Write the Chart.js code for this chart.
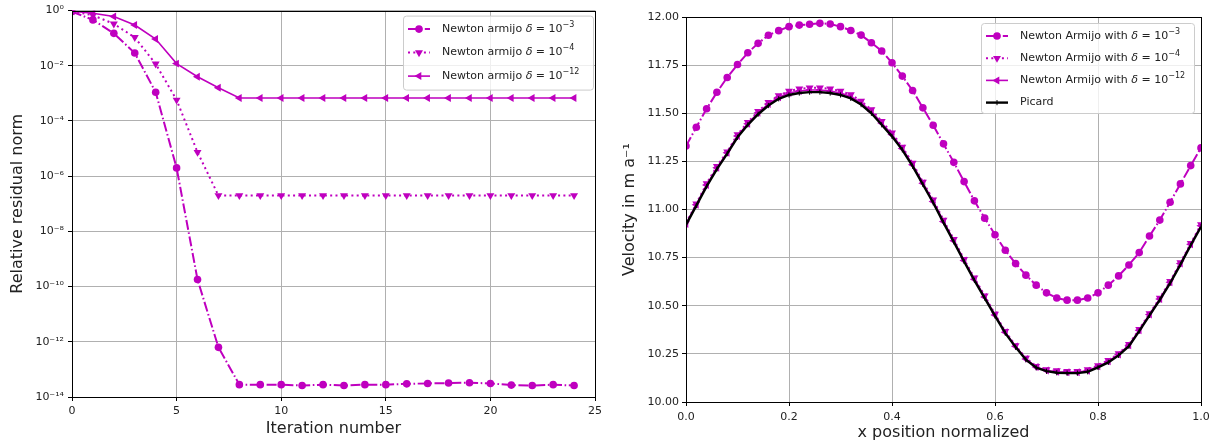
<!DOCTYPE html>
<html>
<head>
<meta charset="utf-8">
<script src="https://cdn.jsdelivr.net/npm/chart.js@4.4.1/dist/chart.umd.min.js"></script>
<style>
html, body { margin: 0; padding: 0; background: #fff; }
#wrap { position: relative; width: 1220px; height: 445px; }
canvas { position: absolute; top: 0; }
#left { left: 0; }
#right { left: 610px; }
</style>
</head>
<body>
<div id="wrap">
	<canvas id="left" width="610" height="445"></canvas>
	<canvas id="right" width="610" height="445"></canvas>
</div>
<script>
// left panel: residual history
const iterations = [0, 1, 2, 3, 4, 5, 6, 7, 8, 9, 10, 11, 12, 13, 14, 15, 16, 17, 18, 19, 20, 21, 22, 23, 24];
const residualD3 = [0.92, 0.46, 0.15, 0.029, 1.1e-3, 2e-6, 1.8e-10, 6.3e-13, 2.8e-14, 2.8e-14, 2.8e-14, 2.6e-14, 2.8e-14, 2.6e-14, 2.8e-14, 2.8e-14, 3.0e-14, 3.1e-14, 3.2e-14, 3.3e-14, 3.1e-14, 2.7e-14, 2.6e-14, 2.8e-14, 2.6e-14];
const residualD4 = [0.95, 0.68, 0.33, 0.107, 0.0117, 5.8e-4, 7.4e-6, 2.0e-7, 2.0e-7, 2.0e-7, 2.0e-7, 2.0e-7, 2.0e-7, 2.0e-7, 2.0e-7, 2.0e-7, 2.0e-7, 2.0e-7, 2.0e-7, 2.0e-7, 2.0e-7, 2.0e-7, 2.0e-7, 2.0e-7, 2.0e-7];
const residualD12 = [0.95, 0.8, 0.61, 0.30, 0.093, 0.012, 4e-3, 1.6e-3, 6.8e-4, 6.8e-4, 6.8e-4, 6.8e-4, 6.8e-4, 6.8e-4, 6.8e-4, 6.8e-4, 6.8e-4, 6.8e-4, 6.8e-4, 6.8e-4, 6.8e-4, 6.8e-4, 6.8e-4, 6.8e-4, 6.8e-4];
const iterationTicks = [0, 5, 10, 15, 20, 25];
const iterationTickLabels = ['0', '5', '10', '15', '20', '25'];
const residualTicks = [1e-14, 1e-12, 1e-10, 1e-8, 1e-6, 1e-4, 1e-2, 1];
const residualTickLabels = ['10⁻¹⁴', '10⁻¹²', '10⁻¹⁰', '10⁻⁸', '10⁻⁶', '10⁻⁴', '10⁻²', '10⁰'];

// right panel: velocity profiles
const positions = [0, 0.02, 0.04, 0.06, 0.08, 0.1, 0.12, 0.14, 0.16, 0.18, 0.2, 0.22, 0.24, 0.26, 0.28, 0.3, 0.32, 0.34, 0.36, 0.38, 0.4, 0.42, 0.44, 0.46, 0.48, 0.5, 0.52, 0.54, 0.56, 0.58, 0.6, 0.62, 0.64, 0.66, 0.68, 0.7, 0.72, 0.74, 0.76, 0.78, 0.8, 0.82, 0.84, 0.86, 0.88, 0.9, 0.92, 0.94, 0.96, 0.98, 1];
const velD3 = [11.33, 11.427, 11.523, 11.609, 11.686, 11.753, 11.814, 11.863, 11.905, 11.929, 11.95, 11.958, 11.962, 11.967, 11.964, 11.95, 11.93, 11.906, 11.866, 11.823, 11.762, 11.693, 11.618, 11.528, 11.438, 11.341, 11.245, 11.145, 11.045, 10.955, 10.869, 10.788, 10.719, 10.659, 10.607, 10.567, 10.54, 10.529, 10.529, 10.54, 10.567, 10.607, 10.655, 10.712, 10.776, 10.862, 10.945, 11.038, 11.133, 11.228, 11.32];
const velD4 = [10.93, 11.03, 11.135, 11.225, 11.3, 11.39, 11.453, 11.51, 11.557, 11.592, 11.615, 11.627, 11.632, 11.632, 11.627, 11.615, 11.597, 11.563, 11.519, 11.458, 11.398, 11.325, 11.241, 11.143, 11.05, 10.945, 10.845, 10.741, 10.645, 10.552, 10.457, 10.367, 10.293, 10.228, 10.186, 10.169, 10.163, 10.16, 10.16, 10.168, 10.19, 10.216, 10.252, 10.3, 10.378, 10.46, 10.54, 10.627, 10.724, 10.824, 10.922];
const velD12 = [10.925, 11.025, 11.127, 11.217, 11.295, 11.382, 11.446, 11.502, 11.548, 11.583, 11.605, 11.616, 11.621, 11.621, 11.616, 11.605, 11.587, 11.554, 11.51, 11.449, 11.389, 11.317, 11.233, 11.137, 11.042, 10.938, 10.838, 10.735, 10.638, 10.546, 10.452, 10.362, 10.289, 10.224, 10.182, 10.164, 10.157, 10.155, 10.155, 10.162, 10.185, 10.211, 10.247, 10.295, 10.373, 10.455, 10.535, 10.622, 10.719, 10.819, 10.916];
const velPicard = [10.92, 11.02, 11.12, 11.21, 11.29, 11.375, 11.44, 11.495, 11.54, 11.575, 11.595, 11.605, 11.61, 11.61, 11.605, 11.595, 11.577, 11.545, 11.5, 11.44, 11.38, 11.31, 11.225, 11.13, 11.035, 10.932, 10.832, 10.73, 10.632, 10.54, 10.447, 10.358, 10.285, 10.22, 10.178, 10.16, 10.152, 10.15, 10.15, 10.157, 10.18, 10.206, 10.242, 10.29, 10.368, 10.45, 10.53, 10.617, 10.714, 10.814, 10.91];
const positionTicks = [0, 0.2, 0.4, 0.6, 0.8, 1];
const positionTickLabels = ['0.0', '0.2', '0.4', '0.6', '0.8', '1.0'];
const velocityTicks = [10, 10.25, 10.5, 10.75, 11, 11.25, 11.5, 11.75, 12];
const velocityTickLabels = ['10.00', '10.25', '10.50', '10.75', '11.00', '11.25', '11.50', '11.75', '12.00'];

const MAGENTA = '#bf00bf';
const FONT = 'DejaVu Sans';
const TEXT = '#222';
const DASHDOT = [10, 2.6, 1.6, 2.6];
const DOTTED = [2, 3.3];

function pts(xs, ys)
{
	return xs.map(function (x, i) { return { x: x, y: ys[i] }; });
}

function drawMarker(ctx, style, x, y, r, rot, color)
{
	ctx.save();
	ctx.translate(x, y);
	ctx.rotate(rot * Math.PI / 180);
	ctx.fillStyle = color;
	ctx.strokeStyle = color;
	ctx.setLineDash([]);
	ctx.beginPath();
	if (style === 'circle') {
		ctx.arc(0, 0, r, 0, 2 * Math.PI);
		ctx.fill();
	} else if (style === 'triangle') {
		ctx.moveTo(0, -r);
		ctx.lineTo(r * 0.866, r * 0.5);
		ctx.lineTo(-r * 0.866, r * 0.5);
		ctx.closePath();
		ctx.fill();
	} else {
		ctx.lineWidth = 1;
		ctx.moveTo(-r, 0);
		ctx.lineTo(r, 0);
		ctx.stroke();
	}
	ctx.restore();
}

// spines on all four sides plus a matplotlib-like legend box
const framePlugin = {
	id: 'frame',
	afterDatasetsDraw(chart) {
		const ctx = chart.ctx;
		const a = chart.chartArea;
		ctx.save();
		ctx.strokeStyle = '#000';
		ctx.lineWidth = 1;
		ctx.strokeRect(Math.round(a.left) + 0.5, Math.round(a.top) + 0.5, Math.round(a.right - a.left), Math.round(a.bottom - a.top));

		const lg = chart.options.plugins.mplLegend;
		const bx = a.right - lg.gapRight - lg.width;
		const by = a.top + lg.gapTop;
		ctx.beginPath();
		ctx.roundRect(bx + 0.5, by + 0.5, lg.width, lg.height, 3);
		ctx.fillStyle = 'rgba(255,255,255,0.8)';
		ctx.fill();
		ctx.strokeStyle = '#cccccc';
		ctx.stroke();

		lg.entries.forEach(function (e, i) {
			const cy = by + lg.first + i * lg.step;
			const x0 = bx + 5, x1 = bx + 27;
			ctx.save();
			ctx.strokeStyle = e.color;
			ctx.lineWidth = e.width;
			ctx.setLineDash(e.dash);
			ctx.beginPath();
			ctx.moveTo(x0, cy);
			ctx.lineTo(x1, cy);
			ctx.stroke();
			ctx.restore();
			drawMarker(ctx, e.style, (x0 + x1) / 2, cy, e.radius, e.rotation, e.color);

			let tx = bx + 39;
			ctx.fillStyle = TEXT;
			ctx.textBaseline = 'middle';
			ctx.textAlign = 'left';
			e.parts.forEach(function (p) {
				let dy = 0;
				if (p.sup) {
					ctx.font = '8px "' + FONT + '"';
					dy = -4.5;
				} else if (p.italic) {
					ctx.font = 'italic 11px "' + FONT + '"';
				} else {
					ctx.font = '11px "' + FONT + '"';
				}
				ctx.fillText(p.t, tx, cy + dy);
				tx += ctx.measureText(p.t).width;
			});
		});
		ctx.restore();
	}
};

function legendText(prefix, exp)
{
	return [
		{ t: prefix },
		{ t: 'δ', italic: true },
		{ t: ' = 10' },
		{ t: exp, sup: true }
	];
}

function tickFont() { return { family: FONT, size: 11 }; }
function titleFont() { return { family: FONT, size: 16 }; }

// ---- left chart ----
new Chart(document.getElementById('left').getContext('2d'), {
	type: 'line',
	data: {
		datasets: [
			{
				data: pts(iterations, residualD3),
				borderColor: MAGENTA, backgroundColor: MAGENTA,
				borderWidth: 2, borderDash: DASHDOT,
				pointStyle: 'circle', pointRadius: 3.8, pointBorderWidth: 0,
				order: 3, clip: 0
			},
			{
				data: pts(iterations, residualD4),
				borderColor: MAGENTA, backgroundColor: MAGENTA,
				borderWidth: 2, borderDash: DOTTED,
				pointStyle: 'triangle', pointRotation: 180, pointRadius: 4.6, pointBorderWidth: 0,
				order: 2, clip: 0
			},
			{
				data: pts(iterations, residualD12),
				borderColor: MAGENTA, backgroundColor: MAGENTA,
				borderWidth: 1.6,
				pointStyle: 'triangle', pointRotation: 270, pointRadius: 4.6, pointBorderWidth: 0,
				order: 1, clip: 0
			}
		]
	},
	options: {
		responsive: false,
		animation: false,
		events: [],
		layout: { padding: { top: 7, right: 15, left: 0, bottom: 0 } },
		plugins: {
			legend: { display: false },
			tooltip: { enabled: false },
			mplLegend: {
				width: 190, height: 74, gapRight: 2, gapTop: 5, first: 13.5, step: 23.5,
				entries: [
					{ color: MAGENTA, width: 2, dash: DASHDOT, style: 'circle', radius: 3.8, rotation: 0, parts: legendText('Newton armijo ', '−3') },
					{ color: MAGENTA, width: 2, dash: DOTTED, style: 'triangle', radius: 4.6, rotation: 180, parts: legendText('Newton armijo ', '−4') },
					{ color: MAGENTA, width: 1.6, dash: [], style: 'triangle', radius: 4.6, rotation: 270, parts: legendText('Newton armijo ', '−12') }
				]
			}
		},
		scales: {
			x: {
				type: 'linear', min: 0, max: 25,
				afterBuildTicks: function (s) { s.ticks = iterationTicks.map(function (v) { return { value: v }; }); },
				afterFit: function (s) { s.height = 48; },
				ticks: {
					callback: function (v, i) { return iterationTickLabels[i]; },
					font: tickFont(), color: TEXT, padding: 4, maxRotation: 0
				},
				grid: { color: '#b0b0b0', lineWidth: 1, tickColor: '#000', tickLength: 4 },
				border: { color: '#000', width: 1 },
				title: { display: true, text: 'Iteration number', font: titleFont(), color: TEXT, padding: { top: 0, bottom: 7 } }
			},
			y: {
				type: 'logarithmic', min: 1e-14, max: 1,
				afterBuildTicks: function (s) { s.ticks = residualTicks.map(function (v) { return { value: v }; }); },
				afterFit: function (s) { s.width = 72; },
				ticks: {
					callback: function (v, i) { return residualTickLabels[i]; },
					font: tickFont(), color: TEXT, padding: 4
				},
				grid: { color: '#b0b0b0', lineWidth: 1, tickColor: '#000', tickLength: 4 },
				border: { color: '#000', width: 1 },
				title: { display: true, text: 'Relative residual norm', font: titleFont(), color: TEXT, padding: { top: 8, bottom: 0 } }
			}
		}
	},
	plugins: [framePlugin]
});

// ---- right chart ----
new Chart(document.getElementById('right').getContext('2d'), {
	type: 'line',
	data: {
		datasets: [
			{
				data: pts(positions, velD3),
				borderColor: MAGENTA, backgroundColor: MAGENTA,
				borderWidth: 2, borderDash: DASHDOT,
				pointStyle: 'circle', pointRadius: 3.8, pointBorderWidth: 0,
				order: 4, clip: 0
			},
			{
				data: pts(positions, velD4),
				borderColor: MAGENTA, backgroundColor: MAGENTA,
				borderWidth: 2, borderDash: DOTTED,
				pointStyle: 'triangle', pointRotation: 180, pointRadius: 4.6, pointBorderWidth: 0,
				order: 3, clip: 0
			},
			{
				data: pts(positions, velD12),
				borderColor: MAGENTA, backgroundColor: MAGENTA,
				borderWidth: 1.6,
				pointStyle: 'triangle', pointRotation: 270, pointRadius: 4.6, pointBorderWidth: 0,
				order: 2, clip: 0
			},
			{
				data: pts(positions, velPicard),
				borderColor: '#000', backgroundColor: '#000',
				borderWidth: 2.4,
				pointStyle: 'line', pointRotation: 90, pointRadius: 2.6, pointBorderWidth: 1,
				pointBorderColor: '#000',
				order: 1, clip: 0
			}
		]
	},
	options: {
		responsive: false,
		animation: false,
		events: [],
		layout: { padding: { top: 17, right: 19, left: 0, bottom: 0 } },
		plugins: {
			legend: { display: false },
			tooltip: { enabled: false },
			mplLegend: {
				width: 213, height: 90, gapRight: 7, gapTop: 6, first: 13, step: 22.2,
				entries: [
					{ color: MAGENTA, width: 2, dash: DASHDOT, style: 'circle', radius: 3.8, rotation: 0, parts: legendText('Newton Armijo with ', '−3') },
					{ color: MAGENTA, width: 2, dash: DOTTED, style: 'triangle', radius: 4.6, rotation: 180, parts: legendText('Newton Armijo with ', '−4') },
					{ color: MAGENTA, width: 1.6, dash: [], style: 'triangle', radius: 4.6, rotation: 270, parts: legendText('Newton Armijo with ', '−12') },
					{ color: '#000', width: 2.4, dash: [], style: 'line', radius: 2.6, rotation: 90, parts: [{ t: 'Picard' }] }
				]
			}
		},
		scales: {
			x: {
				type: 'linear', min: 0, max: 1,
				afterBuildTicks: function (s) { s.ticks = positionTicks.map(function (v) { return { value: v }; }); },
				afterFit: function (s) { s.height = 43; },
				ticks: {
					callback: function (v, i) { return positionTickLabels[i]; },
					font: tickFont(), color: TEXT, padding: 5, maxRotation: 0
				},
				grid: { color: '#b0b0b0', lineWidth: 1, tickColor: '#000', tickLength: 4 },
				border: { color: '#000', width: 1 },
				title: { display: true, text: 'x position normalized', font: titleFont(), color: TEXT, padding: { top: 0, bottom: 3 } }
			},
			y: {
				type: 'linear', min: 10, max: 12,
				afterBuildTicks: function (s) { s.ticks = velocityTicks.map(function (v) { return { value: v }; }); },
				afterFit: function (s) { s.width = 76; },
				ticks: {
					callback: function (v, i) { return velocityTickLabels[i]; },
					font: tickFont(), color: TEXT, padding: 3
				},
				grid: { color: '#b0b0b0', lineWidth: 1, tickColor: '#000', tickLength: 4 },
				border: { color: '#000', width: 1 },
				title: { display: true, text: 'Velocity in m a⁻¹', font: titleFont(), color: TEXT, padding: { top: 10, bottom: 0 } }
			}
		}
	},
	plugins: [framePlugin]
});
</script>
</body>
</html>
